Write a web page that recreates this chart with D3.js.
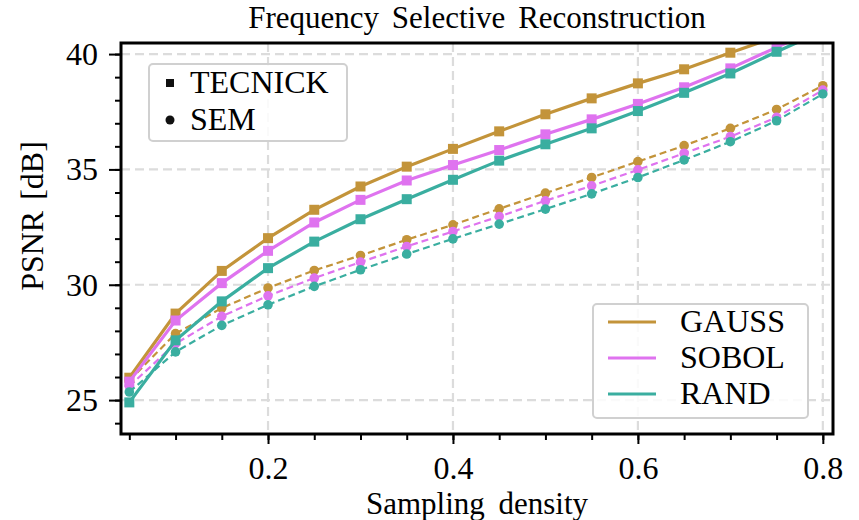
<!DOCTYPE html>
<html>
<head>
<meta charset="utf-8">
<script src="https://cdn.jsdelivr.net/npm/d3@7"></script>
<style>
  body { margin: 0; background: #fff; }
  svg { font-family: "Liberation Serif", "DejaVu Serif", serif; }
  svg text { font-family: "Liberation Serif", "DejaVu Serif", serif; }
</style>
</head>
<body>
<div id="chart"></div>
<script>
// sampling densities
var density = [0.05, 0.10, 0.15, 0.20, 0.25, 0.30, 0.35, 0.40, 0.45, 0.50, 0.55, 0.60, 0.65, 0.70, 0.75, 0.80]

// PSNR values (TECNICK = solid, SEM = dashed)
var gaussTecnick = [25.97, 28.75, 30.6, 32.02, 33.25, 34.26, 35.12, 35.89, 36.65, 37.39, 38.08, 38.73, 39.34, 40.06, 40.75, 41.4]
var sobolTecnick = [25.8, 28.45, 30.07, 31.47, 32.7, 33.68, 34.52, 35.19, 35.84, 36.52, 37.17, 37.84, 38.56, 39.38, 40.29, 41.2]
var randTecnick  = [24.9, 27.59, 29.28, 30.72, 31.87, 32.84, 33.71, 34.55, 35.38, 36.09, 36.78, 37.53, 38.32, 39.16, 40.1, 41.0]
var gaussSem = [25.85, 27.88, 28.99, 29.86, 30.62, 31.27, 31.95, 32.6, 33.29, 33.97, 34.65, 35.34, 36.03, 36.78, 37.6, 38.63]
var sobolSem = [25.6, 27.45, 28.63, 29.52, 30.29, 30.98, 31.66, 32.31, 32.96, 33.64, 34.29, 34.98, 35.7, 36.42, 37.26, 38.44]
var randSem  = [25.35, 27.09, 28.24, 29.13, 29.93, 30.65, 31.33, 31.99, 32.63, 33.28, 33.94, 34.65, 35.41, 36.2, 37.11, 38.27]

var methods = ["GAUSS", "SOBOL", "RAND"]
var colors = ["#c3943a", "#df73ef", "#3aaea0"]
var datasets = ["TECNICK", "SEM"]

var xTicks = [0.2, 0.4, 0.6, 0.8]
var yTicks = [25, 30, 35, 40]

var W = 859, H = 520
var margin = {top: 43, right: 26, bottom: 86, left: 121}
var FS = 32

var svg = d3.select("#chart").append("svg")
    .attr("width", W)
    .attr("height", H)

var x = d3.scaleLinear().domain([0.041, 0.811]).range([margin.left, W - margin.right])
var y = d3.scaleLinear().domain([23.53, 40.48]).range([H - margin.bottom, margin.top])

svg.append("clipPath").attr("id", "clip")
  .append("rect")
    .attr("x", margin.left).attr("y", margin.top)
    .attr("width", W - margin.left - margin.right)
    .attr("height", H - margin.top - margin.bottom)

// grid
var grid = svg.append("g")
grid.selectAll("line.gx").data(xTicks).enter().append("line")
    .attr("x1", d => x(d)).attr("x2", d => x(d))
    .attr("y1", margin.top).attr("y2", H - margin.bottom)
grid.selectAll("line.gy").data(yTicks).enter().append("line")
    .attr("y1", d => y(d)).attr("y2", d => y(d))
    .attr("x1", margin.left).attr("x2", W - margin.right)
grid.selectAll("line")
    .attr("stroke", "#dcdcdc")
    .attr("stroke-width", 2.2)
    .attr("stroke-dasharray", "9,5")

// series
var series = []
var tec = [gaussTecnick, sobolTecnick, randTecnick]
var sem = [gaussSem, sobolSem, randSem]
methods.forEach(function(m, i) {
  series.push({name: m, set: "SEM", color: colors[i], values: sem[i]})
})
methods.forEach(function(m, i) {
  series.push({name: m, set: "TECNICK", color: colors[i], values: tec[i]})
})

var line = d3.line()
  .x(function(d, i) { return x(density[i]) })
  .y(function(d) { return y(d) })

var plot = svg.append("g").attr("clip-path", "url(#clip)")

series.forEach(function(s) {
  var g = plot.append("g")
  g.append("path")
    .attr("d", line(s.values))
    .attr("fill", "none")
    .attr("stroke", s.color)
    .attr("stroke-width", s.set == "TECNICK" ? 3.2 : 2.2)
    .attr("stroke-dasharray", s.set == "TECNICK" ? null : "7,4")
  if (s.set == "TECNICK") {
    g.selectAll("rect").data(s.values).enter().append("rect")
      .attr("x", (d, i) => x(density[i]) - 5)
      .attr("y", d => y(d) - 5)
      .attr("width", 10).attr("height", 10)
      .attr("fill", s.color)
  } else {
    g.selectAll("circle").data(s.values).enter().append("circle")
      .attr("cx", (d, i) => x(density[i]))
      .attr("cy", d => y(d))
      .attr("r", 4.8)
      .attr("fill", s.color)
  }
})

// axes
var xAxis = svg.append("g").attr("transform", "translate(0," + (H - margin.bottom) + ")")
xAxis.call(d3.axisBottom(x).tickValues(d3.range(0.05, 0.801, 0.05)).tickSize(6).tickFormat(""))
xAxis.call(g => g.select(".domain").remove())
var xMaj = svg.append("g").attr("transform", "translate(0," + (H - margin.bottom) + ")")
xMaj.call(d3.axisBottom(x).tickValues(xTicks).tickSize(10).tickPadding(12).tickFormat(d3.format(".1f")))
xMaj.call(g => g.select(".domain").remove())

var yAxis = svg.append("g").attr("transform", "translate(" + margin.left + ",0)")
yAxis.call(d3.axisLeft(y).tickValues(d3.range(24, 40.5, 1)).tickSize(6).tickFormat(""))
yAxis.call(g => g.select(".domain").remove())
var yMaj = svg.append("g").attr("transform", "translate(" + margin.left + ",0)")
yMaj.call(d3.axisLeft(y).tickValues(yTicks).tickSize(12).tickPadding(11))
yMaj.call(g => g.select(".domain").remove())

svg.selectAll("g").attr("font-family", null)
svg.selectAll(".tick line").attr("stroke", "#000").attr("stroke-width", 2)
svg.selectAll(".tick text")
  .style("font-family", "'Liberation Serif', serif")
  .style("font-size", FS + "px")
  .attr("fill", "#000")

// frame
svg.append("rect")
  .attr("x", margin.left).attr("y", margin.top)
  .attr("width", W - margin.left - margin.right)
  .attr("height", H - margin.top - margin.bottom)
  .attr("fill", "none")
  .attr("stroke", "#000")
  .attr("stroke-width", 3)

// labels
svg.append("text")
  .attr("x", (margin.left + W - margin.right) / 2)
  .attr("y", 28)
  .attr("text-anchor", "middle")
  .attr("font-size", 31)
  .attr("word-spacing", 5)
  .text("Frequency Selective Reconstruction")

svg.append("text")
  .attr("x", (margin.left + W - margin.right) / 2)
  .attr("y", 514)
  .attr("text-anchor", "middle")
  .attr("font-size", 31)
  .attr("word-spacing", 6)
  .text("Sampling density")

svg.append("text")
  .attr("transform", "translate(43,216) rotate(-90)")
  .attr("text-anchor", "middle")
  .attr("font-size", FS)
  .attr("word-spacing", 3)
  .text("PSNR [dB]")

// legend: datasets (marker)
var leg1 = svg.append("g")
leg1.append("rect")
  .attr("x", 149).attr("y", 64).attr("width", 198).attr("height", 77)
  .attr("rx", 4)
  .attr("fill", "#fff").attr("fill-opacity", 0.85)
  .attr("stroke", "#d0d0d0").attr("stroke-width", 2)
datasets.forEach(function(d, i) {
  var cy = 83 + i * 37
  if (d == "TECNICK") {
    leg1.append("rect").attr("x", 166).attr("y", cy - 4).attr("width", 8).attr("height", 8).attr("fill", "#111")
  } else {
    leg1.append("circle").attr("cx", 170).attr("cy", cy).attr("r", 4.5).attr("fill", "#111")
  }
  leg1.append("text").attr("x", 190).attr("y", cy + 10).attr("font-size", FS).text(d)
})

// legend: methods (line colour)
var leg2 = svg.append("g")
leg2.append("rect")
  .attr("x", 593).attr("y", 304).attr("width", 215).attr("height", 114)
  .attr("rx", 4)
  .attr("fill", "#fff").attr("fill-opacity", 0.85)
  .attr("stroke", "#d0d0d0").attr("stroke-width", 2)
methods.forEach(function(m, i) {
  var cy = 322 + i * 36
  leg2.append("line")
    .attr("x1", 608).attr("x2", 656).attr("y1", cy).attr("y2", cy)
    .attr("stroke", colors[i]).attr("stroke-width", 3)
  leg2.append("text").attr("x", 680).attr("y", cy + 10).attr("font-size", FS).text(m)
})
</script>
</body>
</html>
